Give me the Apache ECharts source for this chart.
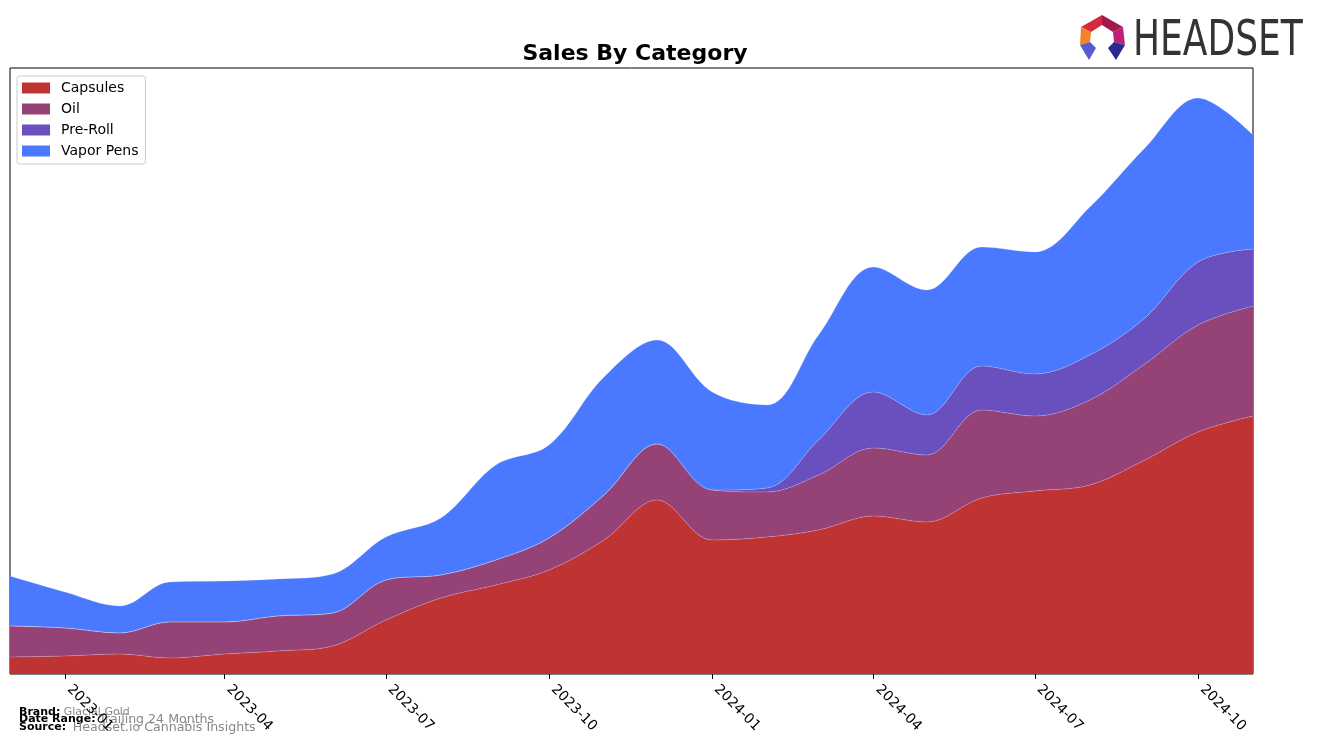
<!DOCTYPE html>
<html>
<head>
<meta charset="utf-8">
<script src="https://cdn.jsdelivr.net/npm/echarts@6/dist/echarts.min.js"></script>
<style>
  html, body { margin: 0; padding: 0; background: #fff; }
  #container { width: 1317px; height: 745px; }
</style>
</head>
<body>
<div id="container"></div>
<script>
var months = ['2022-12', '2023-01', '2023-02', '2023-03', '2023-04', '2023-05', '2023-06',
    '2023-07', '2023-08', '2023-09', '2023-10', '2023-11', '2023-12', '2024-01', '2024-02',
    '2024-03', '2024-04', '2024-05', '2024-06', '2024-07', '2024-08', '2024-09', '2024-10', '2024-11'];
var capsules = [17, 18, 20, 16, 20, 23, 28, 54, 76, 89, 104, 134, 174, 134, 137, 144, 158, 152, 176, 183, 189, 214, 242, 258];
var oil = [31, 28, 21, 36, 32, 35, 33, 40, 23, 25, 32, 45, 56, 50, 45, 55, 68, 67, 88, 75, 85, 96, 107, 110];
var preRoll = [0, 0, 0, 0, 0, 0, 0, 0, 0, 0, 0, 0, 0, 0, 4, 35, 56, 40, 44, 42, 45, 46, 63, 57];
var vaporPens = [50, 36, 27, 40, 41, 37, 39, 43, 57, 95, 93, 118, 104, 98, 83, 105, 125, 125, 119, 122, 148, 170, 164, 114];
var tickLabels = ['2023-01', '2023-04', '2023-07', '2023-10', '2024-01', '2024-04', '2024-07', '2024-10'];

var names = ['Capsules', 'Oil', 'Pre-Roll', 'Vapor Pens'];
var colors = ['#c03333', '#954277', '#6a4fbf', '#4a78ff'];
var values = [capsules, oil, preRoll, vaporPens];

function toDate(m) {
    return m + '-01';
}
function toTime(m) {
    var p = m.split('-');
    return new Date(+p[0], +p[1] - 1, 1).getTime();
}

var dom = document.getElementById('container');
var myChart = echarts.init(dom);

var series = names.map(function (name, i) {
    return {
        name: name,
        type: 'line',
        stack: 'total',
        smooth: 0.35,
        symbol: 'none',
        lineStyle: { width: 0.6, color: 'rgba(255,255,255,0.35)' },
        itemStyle: { color: colors[i] },
        areaStyle: { color: colors[i], opacity: 1 },
        data: values[i].map(function (v, j) { return [toDate(months[j]), v]; })
    };
});

var labelFont = { fontFamily: 'DejaVu Sans', fontSize: 14, color: '#000' };

var option = {
    animation: false,
    title: {
        text: 'Sales By Category',
        left: 630,
        textAlign: 'center',
        top: 38,
        textStyle: { fontFamily: 'DejaVu Sans', fontSize: 22, fontWeight: 'bold', color: '#000' }
    },
    legend: {
        data: names,
        orient: 'vertical',
        left: 17,
        top: 76,
        itemWidth: 28,
        itemHeight: 11,
        itemGap: 7,
        padding: [5, 7, 6, 5],
        borderColor: '#cccccc',
        borderWidth: 1,
        borderRadius: 3,
        icon: 'rect',
        textStyle: { fontFamily: 'DejaVu Sans', fontSize: 14, lineHeight: 14, color: '#000', padding: [0, 0, 0, 6] }
    },
    grid: {
        left: 10,
        right: 64,
        top: 68,
        bottom: 71,
        show: true,
        borderColor: '#000',
        borderWidth: 1,
        backgroundColor: 'transparent'
    },
    xAxis: {
        type: 'time',
        min: toTime('2022-12'),
        max: toTime('2024-11'),
        axisLine: { show: false },
        splitLine: { show: false },
        axisTick: {
            show: true,
            length: 5,
            lineStyle: { color: '#000' },
            customValues: tickLabels.map(toTime)
        },
        axisLabel: Object.assign({
            rotate: -45,
            margin: 9,
            padding: [0, 0, 0, 6],
            customValues: tickLabels.map(toTime),
            formatter: '{yyyy}-{MM}'
        }, labelFont)
    },
    yAxis: {
        type: 'value',
        min: 0,
        max: 606,
        show: false
    },
    series: series,
    graphic: [
        { type: 'polygon', shape: { points: [[1102, 15], [1081, 27], [1091, 32], [1102, 25]] }, style: { fill: '#d42a3a' } },
        { type: 'polygon', shape: { points: [[1102, 15], [1123, 27], [1113, 32], [1102, 25]] }, style: { fill: '#a31a4a' } },
        { type: 'polygon', shape: { points: [[1081, 27], [1080, 45], [1090, 42], [1091, 32]] }, style: { fill: '#f5822a' } },
        { type: 'polygon', shape: { points: [[1123, 27], [1125, 45], [1114, 42], [1113, 32]] }, style: { fill: '#c0207a' } },
        { type: 'polygon', shape: { points: [[1080, 45], [1090, 42], [1096, 48], [1089, 60]] }, style: { fill: '#5a5ad0' } },
        { type: 'polygon', shape: { points: [[1125, 45], [1114, 42], [1108, 48], [1116, 60]] }, style: { fill: '#2a2a90' } },
        {
            type: 'text', left: 1133, top: 17, scaleX: 0.8,
            style: { text: 'HEADSET', font: '50px "Liberation Sans Narrow", "DejaVu Sans Condensed", sans-serif', fill: '#333333' }
        },
        {
            type: 'text', left: 19, top: 706,
            style: {
                text: '{b|Brand:} {g|Glacial Gold}',
                rich: {
                    b: { fontFamily: 'DejaVu Sans', fontSize: 11, fontWeight: 'bold', fill: '#000' },
                    g: { fontFamily: 'DejaVu Sans', fontSize: 11, fill: '#888' }
                }
            }
        },
        {
            type: 'text', left: 19, top: 713,
            style: {
                text: '{b|Date Range:} {g|Trailing 24 Months}',
                rich: {
                    b: { fontFamily: 'DejaVu Sans', fontSize: 11, fontWeight: 'bold', fill: '#000' },
                    g: { fontFamily: 'DejaVu Sans', fontSize: 12.6, fill: '#888' }
                }
            }
        },
        {
            type: 'text', left: 19, top: 721,
            style: {
                text: '{b|Source:}  {g|Headset.io Cannabis Insights}',
                rich: {
                    b: { fontFamily: 'DejaVu Sans', fontSize: 11, fontWeight: 'bold', fill: '#000' },
                    g: { fontFamily: 'DejaVu Sans', fontSize: 12.6, fill: '#888' }
                }
            }
        }
    ]
};

if (option && typeof option === 'object') {
    myChart.setOption(option, true);
}
</script>
</body>
</html>
